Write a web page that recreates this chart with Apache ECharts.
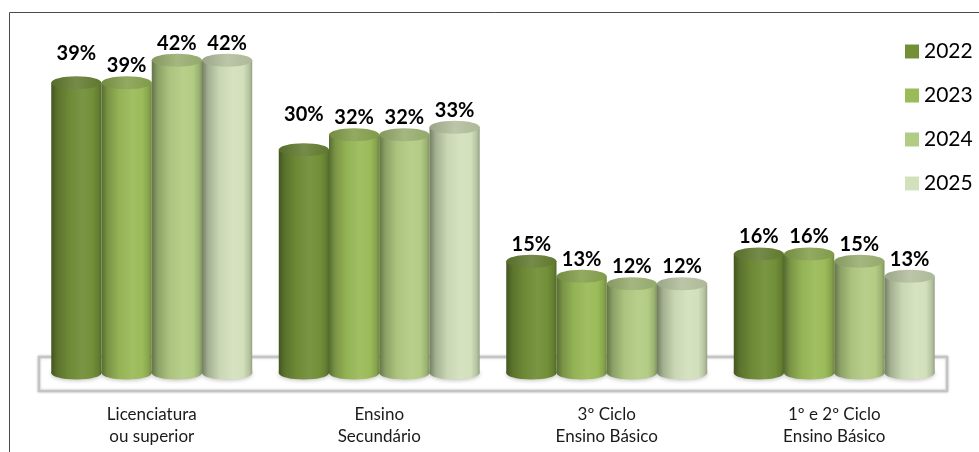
<!DOCTYPE html>
<html>
<head>
<meta charset="utf-8">
<script src="https://cdn.jsdelivr.net/npm/echarts@6/dist/echarts.min.js"></script>
<style>
  html, body { margin: 0; padding: 0; background: #fff; }
  #chart { width: 979px; height: 452px; }
</style>
</head>
<body>
<div id="chart"></div>
<script>
// Education level distribution by year
const categories = ['Licenciatura\nou superior', 'Ensino\nSecundário', '3º Ciclo\nEnsino Básico', '1º e 2º Ciclo\nEnsino Básico'];
const years = ['2022', '2023', '2024', '2025'];
const values2022 = [39, 30, 15, 16];
const values2023 = [39, 32, 13, 16];
const values2024 = [42, 32, 12, 15];
const values2025 = [42, 33, 12, 13];
const seriesValues = [values2022, values2023, values2024, values2025];

// Per-year base colours (olive green family)
const baseColors = ['#728F38', '#9BBB59', '#B3CC84', '#D3E0BC'];

// Extra lift (px) for a few value labels that sit higher than the rest
const labelLift = { '0|0': 12, '0|1': 18 };

const GROUP_RATIO = 0.8835;   // share of each category band taken by the 4 cylinders
const RY = 6.5;               // vertical radius of the cylinder caps

function hexToRgb(h) {
  h = h.replace('#', '');
  return [parseInt(h.slice(0, 2), 16), parseInt(h.slice(2, 4), 16), parseInt(h.slice(4, 6), 16)];
}
function mix(hex, target, t) {
  const c = hexToRgb(hex);
  const r = c.map((v, i) => Math.round(v + (target[i] - v) * t));
  return 'rgb(' + r.join(',') + ')';
}
const shade = (hex, t) => mix(hex, [20, 28, 10], t);
const tint = (hex, t) => mix(hex, [255, 255, 255], t);

function bodyGradient(c) {
  return {
    type: 'linear', x: 0, y: 0, x2: 1, y2: 0,
    colorStops: [
      { offset: 0, color: shade(c, 0.5) },
      { offset: 0.12, color: shade(c, 0.25) },
      { offset: 0.35, color: shade(c, 0.05) },
      { offset: 0.62, color: tint(c, 0.06) },
      { offset: 0.82, color: c },
      { offset: 0.94, color: shade(c, 0.15) },
      { offset: 1, color: shade(c, 0.32) }
    ]
  };
}
function capGradient(c) {
  return {
    type: 'linear', x: 0, y: 0, x2: 1, y2: 0,
    colorStops: [
      { offset: 0, color: shade(c, 0.3) },
      { offset: 0.5, color: mix(c, [128, 128, 118], 0.28) },
      { offset: 1, color: shade(c, 0.2) }
    ]
  };
}

function renderCylinder(params, api) {
  const ci = api.value(0);
  const v = api.value(1);
  const base = api.coord([ci, 0]);
  const top = api.coord([ci, v]);
  const band = api.size([1, 0])[0];
  const groupW = band * GROUP_RATIO;
  const w = groupW / 4;
  const x = base[0] - groupW / 2 + params.seriesIndex * w;
  const cx = x + w / 2;
  const c = baseColors[params.seriesIndex];
  const lift = labelLift[params.seriesIndex + '|' + ci] || 0;
  return {
    type: 'group',
    children: [
      {
        type: 'ellipse',
        shape: { cx: cx, cy: base[1], rx: w / 2, ry: RY },
        style: { fill: bodyGradient(c), shadowBlur: 4, shadowColor: 'rgba(0,0,0,0.25)', shadowOffsetY: 1 }
      },
      {
        type: 'rect',
        shape: { x: x, y: top[1], width: w, height: base[1] - top[1] },
        style: { fill: bodyGradient(c) }
      },
      {
        type: 'ellipse',
        shape: { cx: cx, cy: top[1], rx: w / 2, ry: RY },
        style: { fill: capGradient(c) }
      },
      {
        type: 'text',
        style: {
          text: v + '%',
          x: cx,
          y: top[1] - 17 - lift,
          align: 'center',
          verticalAlign: 'middle',
          font: 'bold 20px Lato, "Open Sans", sans-serif',
          fill: '#000'
        }
      }
    ]
  };
}

const chart = echarts.init(document.getElementById('chart'), null, { renderer: 'canvas' });

const option = {
  animation: false,
  backgroundColor: '#fff',
  grid: { left: 38, right: 31, top: 38, bottom: 79, outerBoundsMode: 'none' },
  legend: {
    data: years,
    orient: 'vertical',
    left: 905,
    top: 41,
    padding: 0,
    itemWidth: 14,
    itemHeight: 14,
    itemGap: 23,
    itemTextGap: 6,
    icon: 'rect',
    textStyle: { fontFamily: 'Lato, "Open Sans", sans-serif', fontSize: 21, color: '#000', lineHeight: 21 }
  },
  xAxis: {
    type: 'category',
    data: categories,
    axisLine: { show: false },
    axisTick: { show: false },
    axisLabel: {
      margin: 31,
      fontFamily: 'Lato, "Open Sans", sans-serif',
      fontSize: 17,
      lineHeight: 22,
      color: '#1a1a1a'
    }
  },
  yAxis: { type: 'value', min: 0, max: 45, show: false, splitLine: { show: false } },
  graphic: [
    {
      type: 'rect',
      z: -10,
      shape: { x: 9.5, y: 12.5, width: 1000, height: 500 },
      style: { fill: 'none', stroke: '#4a4a4a', lineWidth: 1 }
    },
    {
      type: 'rect',
      z: -5,
      shape: { x: 39, y: 357, width: 908, height: 34 },
      style: { fill: '#fff', stroke: '#c4c4c4', lineWidth: 2.5, shadowBlur: 3, shadowColor: 'rgba(0,0,0,0.18)' }
    }
  ],
  series: years.map((y, i) => ({
    name: y,
    type: 'custom',
    itemStyle: { color: baseColors[i] },
    encode: { x: 0, y: 1 },
    data: seriesValues[i].map((v, ci) => [ci, v]),
    renderItem: renderCylinder
  }))
};

chart.setOption(option);
</script>
</body>
</html>
